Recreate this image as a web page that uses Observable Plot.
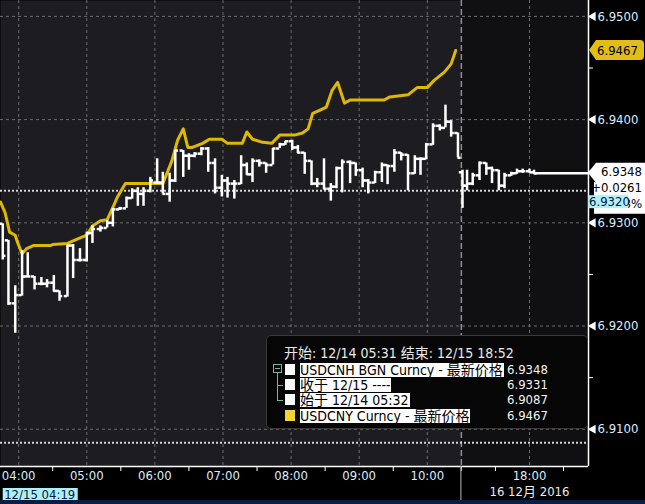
<!DOCTYPE html>
<html><head><meta charset="utf-8">
<script src="https://cdn.jsdelivr.net/npm/d3@7"></script>
<script src="https://cdn.jsdelivr.net/npm/@observablehq/plot@0.6"></script>
<style>
html,body{margin:0;padding:0;background:#000;}
#wrap{position:relative;width:645px;height:504px;overflow:hidden;background:#000;font-family:"DejaVu Sans Condensed","Noto Sans CJK SC",sans-serif;}
#wrap svg{display:block;}
#strip{position:absolute;left:0;top:500px;width:645px;height:4px;background:#0b1d44;}
#legend{position:absolute;left:266px;top:335px;width:322px;height:94px;background:#060606;border:1px solid #3a3a3a;border-radius:5px;box-sizing:border-box;color:#e8e8e8;}
#legend .hdr{position:absolute;left:17px;top:8px;font-size:14px;line-height:18px;white-space:nowrap;}
#legend .sw{position:absolute;left:18px;width:10px;height:11px;}
#legend .lab{position:absolute;left:33px;height:14px;line-height:14px;font-size:14px;background:#fff;color:#000;white-space:nowrap;padding-right:1px;}
#legend .val{position:absolute;left:240px;height:14px;line-height:14px;font-size:13px;color:#f2f2f2;}
#legend .tree{position:absolute;border-color:#6fb8a2;border-style:solid;border-width:0;}
</style></head>
<body>
<div id="wrap"><div id="legend"></div><div id="strip"></div></div>
<script>
// ---------- data ----------
const barTimes = ["03:46","03:51","03:57","04:03","04:08","04:14","04:20","04:25","04:31","04:36","04:43","04:48","04:54","05:00","05:05","05:12","05:18","05:23","05:29","05:35","05:40","05:45","05:50","05:56","06:02","06:07","06:13","06:18","06:25","06:30","06:35","06:41","06:47","06:53","06:59","07:04","07:10","07:16","07:21","07:26","07:32","07:38","07:44","07:50","07:55","08:01","08:06","08:12","08:18","08:23","08:29","08:35","08:40","08:45","08:52","08:57","09:03","09:08","09:14","09:20","09:25","09:31","09:37","09:43","09:49","09:54","09:59","10:05","10:11","10:16","10:21","10:27","17:01","17:05","17:10","17:16","17:22","17:27","17:33","17:38","17:44","17:49","17:54","18:00","18:04"];
const opens = [6.9299,6.9283,6.9222,6.9230,6.9248,6.9248,6.9241,6.9241,6.9242,6.9234,6.9229,6.9278,6.9264,6.9264,6.9290,6.9294,6.9295,6.9300,6.9313,6.9314,6.9324,6.9331,6.9328,6.9331,
6.9339,6.9339,6.9328,6.9341,6.9370,6.9365,6.9365,6.9367,6.9372,6.9358,6.9334,6.9341,6.9338,6.9338,6.9356,6.9347,6.9360,6.9358,6.9356,6.9372,6.9376,6.9379,6.9373,6.9368,6.9360,6.9338,
6.9338,6.9333,6.9335,6.9353,6.9359,6.9358,6.9351,6.9341,6.9339,6.9349,6.9356,6.9355,6.9368,6.9366,6.9348,6.9362,6.9362,6.9376,6.9394,6.9392,6.9398,6.9387,
6.9349,6.9336,6.9338,6.9346,6.9358,6.9353,6.9351,6.9336,6.9346,6.9348,6.9350,6.9350,6.9349];
const highs = [6.9299,6.9283,6.9239,6.9273,6.9271,6.9248,6.9247,6.9245,6.9249,6.9234,6.9278,6.9279,6.9275,6.9291,6.9297,6.9297,6.9302,6.9314,6.9315,6.9325,6.9333,6.9334,6.9334,6.9344,
6.9362,6.9349,6.9348,6.9370,6.9370,6.9367,6.9368,6.9373,6.9373,6.9362,6.9346,6.9344,6.9341,6.9365,6.9358,6.9362,6.9361,6.9358,6.9372,6.9377,6.9379,6.9380,6.9375,6.9368,6.9360,6.9343,
6.9362,6.9338,6.9354,6.9361,6.9360,6.9358,6.9353,6.9342,6.9350,6.9358,6.9356,6.9371,6.9368,6.9366,6.9365,6.9363,6.9377,6.9396,6.9395,6.9414,6.9399,6.9387,
6.9351,6.9351,6.9348,6.9359,6.9358,6.9354,6.9351,6.9348,6.9349,6.9352,6.9352,6.9352,6.9351];
const lows = [6.9264,6.9220,6.9193,6.9229,6.9247,6.9235,6.9239,6.9237,6.9233,6.9224,6.9228,6.9246,6.9262,6.9262,6.9280,6.9291,6.9295,6.9296,6.9312,6.9314,6.9323,6.9316,6.9316,6.9329,
6.9338,6.9328,6.9320,6.9339,6.9344,6.9351,6.9363,6.9365,6.9349,6.9328,6.9325,6.9324,6.9323,6.9337,6.9346,6.9339,6.9354,6.9348,6.9356,6.9372,6.9375,6.9370,6.9367,6.9347,6.9336,6.9334,
6.9332,6.9321,6.9333,6.9329,6.9338,6.9345,6.9334,6.9328,6.9338,6.9339,6.9337,6.9349,6.9360,6.9331,6.9347,6.9346,6.9361,6.9375,6.9389,6.9392,6.9383,6.9363,
6.9314,6.9331,6.9336,6.9341,6.9346,6.9338,6.9331,6.9333,6.9345,6.9347,6.9348,6.9348,6.9347];
const closes = [6.9268,6.9222,6.9230,6.9248,6.9248,6.9241,6.9241,6.9242,6.9234,6.9229,6.9278,6.9264,6.9264,6.9290,6.9294,6.9295,6.9300,6.9313,6.9314,6.9324,6.9331,6.9328,6.9331,6.9341,
6.9339,6.9328,6.9341,6.9370,6.9365,6.9365,6.9367,6.9372,6.9358,6.9334,6.9341,6.9338,6.9338,6.9356,6.9347,6.9360,6.9358,6.9356,6.9372,6.9376,6.9379,6.9373,6.9368,6.9360,6.9338,6.9338,
6.9333,6.9335,6.9353,6.9359,6.9358,6.9351,6.9341,6.9339,6.9349,6.9356,6.9355,6.9368,6.9366,6.9348,6.9362,6.9362,6.9376,6.9394,6.9392,6.9398,6.9387,6.9363,
6.9336,6.9338,6.9346,6.9358,6.9353,6.9351,6.9336,6.9346,6.9348,6.9350,6.9350,6.9349,6.9348];

const cnyTimes = ["03:44","03:48","03:52","03:57","03:59","04:03","04:07","04:13","04:28","04:30","04:43","04:51","05:00","05:05","05:12","05:18","05:23","05:27","05:34","06:07","06:15","06:20","06:25","06:29","06:33","06:42","06:48","06:59","07:04","07:17","07:21","07:26","07:35","07:43","07:50","08:03","08:10","08:15","08:19","08:27","08:31","08:36","08:41","08:47","08:52","09:22","09:27","09:43","09:51","10:00","10:06","10:15","10:21","10:25"];
const cnyValues = [6.9320,6.9310,6.9291,6.9288,6.9281,6.9270,6.9275,6.9278,6.9278,6.9279,6.9280,6.9284,6.9288,6.9297,6.9302,6.9303,6.9315,6.9325,6.9338,6.9338,6.9360,6.9380,6.9391,6.9373,6.9373,6.9377,6.9381,6.9381,6.9377,6.9377,6.9388,6.9381,6.9378,6.9377,6.9385,6.9385,6.9387,6.9391,6.9406,6.9410,6.9412,6.9428,6.9436,6.9416,6.9419,6.9419,6.9422,6.9424,6.9431,6.9431,6.9438,6.9446,6.9454,6.9467];

const sessionStarts = ["03:44","17:00"];
const sessionEnds = ["10:30","18:52"];
const yDomain = [6.90639, 6.95154];
const yTicks = [6.91, 6.92, 6.93, 6.94, 6.95];
const yMinorTicks = [6.915, 6.925, 6.935, 6.945];
const hourLabels = ["04:00","05:00","06:00","07:00","08:00","09:00","10:00","18:00"];
const halfHourTicks = ["04:30","05:30","06:30","07:30","08:30","09:30","10:30","17:30","18:30"];
const dateTime = "18:00", dateLabel = "16 12月 2016";
const refLines = [6.9331, 6.9087];          // 收于 / 始于
const lastCNH = 6.9348, lastCNY = 6.9467;
const changeLines = ["+0.0261", "+0.38%"];
const cursorTime = "04:19", cursorLabel = "12/15 04:19", cursorValue = 6.9320;
const legendHeader = "开始: 12/14 05:31 结束: 12/15 18:52";
const legendLabels = ["USDCNH BGN Curncy - 最新价格", "收于 12/15 ----", "始于 12/14 05:32", "USDCNY Curncy - 最新价格"];
const legendValues = ["6.9348", "6.9331", "6.9087", "6.9467"];

// ---------- helpers ----------
const FONT = '"DejaVu Sans Condensed","Noto Sans CJK SC",sans-serif';
const toMin = s => { const [h, m] = s.split(":").map(Number); return h * 60 + m; };
const s1a = toMin(sessionStarts[0]), s1b = toMin(sessionEnds[0]), s2a = toMin(sessionStarts[1]);
const pos = s => { const m = toMin(s); return m <= s1b ? m - s1a : (s1b - s1a) + (m - s2a); };
const xEnd = pos(sessionEnds[1]);
const bars = barTimes.map((t, i) => ({x: pos(t), o: opens[i], h: highs[i], l: lows[i], c: closes[i]}));
const cny = cnyTimes.map((t, i) => ({x: pos(t), y: cnyValues[i]}));
const HALF = 2.8;
const lastBarX = bars[bars.length - 1].x;

const plot = Plot.plot({
  width: 645, height: 500,
  marginLeft: 0, marginRight: 57, marginTop: 0, marginBottom: 34,
  style: {background: "transparent", color: "#fff", overflow: "visible"},
  x: {type: "linear", domain: [0, xEnd], ticks: halfHourTicks.map(pos), tickSize: 5, tickFormat: () => "", label: null},
  y: {domain: yDomain, axis: "right", ticks: yMinorTicks, tickSize: 4, tickFormat: () => "", label: null},
  marks: [
    Plot.frame({fill: "#1c1c21", stroke: "none"}),
    Plot.rect([0], {x1: () => pos(sessionStarts[1]), x2: () => xEnd, fill: "#101013"}),
    Plot.ruleY(yTicks, {stroke: "#6e6e6e", strokeDasharray: "3,3"}),
    Plot.ruleX(hourLabels, {x: d => pos(d), stroke: "#6e6e6e", strokeDasharray: "3,3"}),
    Plot.ruleX([sessionEnds[0]], {x: d => pos(d), stroke: "#8e8e8e", strokeWidth: 1.5, strokeDasharray: "6,3"}),
    Plot.ruleY(refLines, {stroke: "#d4d4d4", strokeWidth: 2, strokeDasharray: "2,2"}),
    Plot.line(cny, {x: "x", y: "y", stroke: "#dfb800", strokeWidth: 3}),
    Plot.ruleX(bars, {x: "x", y1: "l", y2: "h", stroke: "#fff", strokeWidth: 2.5}),
    Plot.ruleY(bars, {y: "o", x1: d => d.x - HALF, x2: d => d.x, stroke: "#fff", strokeWidth: 2.5}),
    Plot.ruleY(bars, {y: "c", x1: d => d.x, x2: d => d.x + HALF, stroke: "#fff", strokeWidth: 2.5}),
    Plot.ruleY([lastCNH], {x1: () => lastBarX, x2: () => xEnd, stroke: "#fff", strokeWidth: 2.5}),
    Plot.ruleX([xEnd], {stroke: "#fff", strokeWidth: 1.5}),
    Plot.ruleY([yDomain[0]], {stroke: "#fff", strokeWidth: 1.5}),
    Plot.dot(yTicks, {y: d => d, frameAnchor: "right", dx: 4.5, symbol: "triangle", r: 3.4, rotate: -90, fill: "#fff", stroke: "none"}),
    Plot.text(yTicks, {y: d => d, text: d => d.toFixed(4), frameAnchor: "right", textAnchor: "start", dx: 9, fill: "#d8ecff", fontSize: 13, fontFamily: FONT}),
    Plot.text(hourLabels, {x: d => pos(d), text: d => d, frameAnchor: "bottom", dy: 13, fill: "#d8ecff", fontSize: 13, fontFamily: FONT}),
    Plot.text([dateLabel], {x: () => pos(dateTime), text: d => d, frameAnchor: "bottom", dy: 29, fill: "#ececec", fontSize: 13, fontFamily: FONT})
  ]
});
const wrap = document.getElementById("wrap");
wrap.insertBefore(plot, wrap.firstChild);

// ---------- value tags drawn with the plot's own scales ----------
const svg = d3.select(plot);
const xs = plot.scale("x"), ys = plot.scale("y");
const xR = xs.apply(xEnd);
const g = svg.append("g").attr("font-family", FONT).attr("font-size", 13).attr("text-anchor", "start");

// session break continues down through the date row
const xb = xs.apply(pos(sessionEnds[0]));
g.append("line").attr("x1", xb).attr("x2", xb).attr("y1", ys.apply(yDomain[0])).attr("y2", 500).attr("stroke", "#9a9a9a").attr("stroke-width", 1.2);

// USDCNH last-price tag (white, with change lines)
const yW = ys.apply(lastCNH);
g.append("path").attr("fill", "#fff")
  .attr("d", `M${xR},${yW} L${xR + 8},${yW - 10} H645 V${yW + 41} H${xR + 6} V${yW + 9} L${xR + 8},${yW + 10} Z`);
g.append("text").attr("x", 642).attr("y", yW - 1).attr("dy", "0.36em").attr("text-anchor", "end").attr("fill", "#000").text(lastCNH.toFixed(4));
changeLines.forEach((t, i) => g.append("text").attr("x", 642).attr("y", yW - 1 + 16 * (i + 1)).attr("dy", "0.36em").attr("text-anchor", "end").attr("fill", "#000").text(t));

// cursor value box (drawn over the tag, as in the terminal)
const yC = ys.apply(cursorValue);
g.append("rect").attr("x", xR).attr("y", yC - 6.5).attr("width", 40).attr("height", 13).attr("fill", "#aef0f8");
g.append("text").attr("x", xR + 1).attr("y", yC).attr("dy", "0.36em").attr("text-anchor", "start").attr("fill", "#0a1838").text(cursorValue.toFixed(4));

// USDCNY last-price tag (yellow)
const yY = ys.apply(lastCNY);
g.append("path").attr("fill", "#e2bd14")
  .attr("d", `M${xR + 1},${yY} L${xR + 8},${yY - 10} H${xR + 52} Q${xR + 56},${yY - 10} ${xR + 56},${yY - 6} V${yY + 6} Q${xR + 56},${yY + 10} ${xR + 52},${yY + 10} H${xR + 8} Z`);
g.append("text").attr("x", xR + 9).attr("y", yY).attr("dy", "0.36em").attr("text-anchor", "start").attr("fill", "#000").text(lastCNY.toFixed(4));

// cursor time box at bottom
const xc = xs.apply(pos(cursorTime));
const yBot = ys.apply(yDomain[0]);
g.append("rect").attr("x", xc - 37).attr("y", yBot + 22).attr("width", 75).attr("height", 12).attr("fill", "#aef0f8");
g.append("text").attr("x", xc).attr("y", yBot + 28).attr("dy", "0.36em").attr("text-anchor", "middle").attr("fill", "#0a1838").text(cursorLabel);

// ---------- legend ----------
const lg = document.getElementById("legend");
const hdr = document.createElement("div"); hdr.className = "hdr"; hdr.textContent = legendHeader; lg.appendChild(hdr);
const rowTop = [26.5, 41.5, 57, 73];
const swatchColors = ["#fff", "#fff", "#fff", "#f2d33c"];
legendLabels.forEach((t, i) => {
  const sw = document.createElement("div"); sw.className = "sw"; sw.style.top = (rowTop[i] + 1) + "px"; sw.style.background = swatchColors[i]; lg.appendChild(sw);
  const lb = document.createElement("div"); lb.className = "lab"; lb.style.top = rowTop[i] + "px"; lb.textContent = t; lg.appendChild(lb);
  const v = document.createElement("div"); v.className = "val"; v.style.top = rowTop[i] + "px"; v.textContent = legendValues[i]; lg.appendChild(v);
});
// tree connector
const mk = (css) => { const d = document.createElement("div"); d.className = "tree"; Object.assign(d.style, css); lg.appendChild(d); return d; };
mk({left: "6px", top: "28px", width: "7px", height: "7px", borderWidth: "1px"});
mk({left: "8px", top: "31.5px", width: "5px", height: "0", borderTopWidth: "1px"});
mk({left: "10px", top: "37px", width: "0", height: (rowTop[2] + 7 - 37) + "px", borderLeftWidth: "1px"});
mk({left: "10px", top: (rowTop[1] + 7) + "px", width: "6px", height: "0", borderTopWidth: "1px"});
mk({left: "10px", top: (rowTop[2] + 7) + "px", width: "6px", height: "0", borderTopWidth: "1px"});
</script>
</body></html>
